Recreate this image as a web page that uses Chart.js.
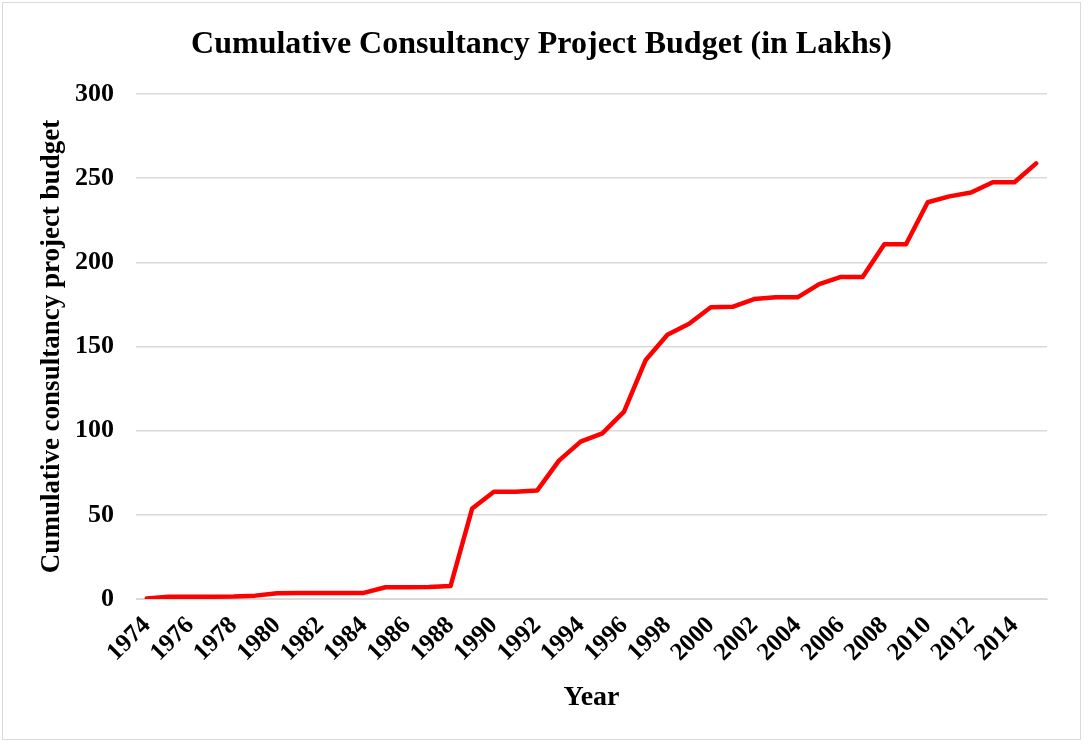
<!DOCTYPE html>
<html>
<head>
<meta charset="utf-8">
<script src="https://cdn.jsdelivr.net/npm/chart.js@4"></script>
<style>
  html, body { margin: 0; padding: 0; background: #fff; }
  #wrap { position: relative; width: 1089px; height: 744px; }
  #frame { position: absolute; left: 2px; top: 2px; width: 1079px; height: 738px; border: 1px solid #d9d9d9; box-sizing: border-box; pointer-events: none; }
</style>
</head>
<body>
<div id="wrap">
  <canvas id="myChart" width="1089" height="744"></canvas>
  <div id="frame"></div>
</div>
<script>
const years = [1974, 1975, 1976, 1977, 1978, 1979, 1980, 1981, 1982, 1983, 1984, 1985, 1986, 1987,
    1988, 1989, 1990, 1991, 1992, 1993, 1994, 1995, 1996, 1997, 1998, 1999, 2000, 2001,
    2002, 2003, 2004, 2005, 2006, 2007, 2008, 2009, 2010, 2011, 2012, 2013, 2014, 2015]

const budget = [0.3, 1.3, 1.4, 1.4, 1.5, 2, 3.4, 3.5, 3.6, 3.6, 3.6, 7, 7, 7.1,
    7.7, 53.8, 63.7, 63.7, 64.5, 82.2, 93.5, 98.4, 111.3, 142, 157, 163.5, 173.3, 173.6,
    178.2, 179.2, 179.2, 187.1, 191.3, 191.3, 210.7, 210.7, 235.7, 239.2, 241.5, 247.6, 247.6, 258.8]

const yTicks = [0, 50, 100, 150, 200, 250, 300]

const serif = "'Liberation Serif', 'Times New Roman', serif"

const chartData = {
    labels: years.map(y => String(y)),
    datasets: [
        {
            label: "Cumulative budget",
            data: budget,
            borderColor: "#ff0000",
            borderWidth: 4.5,
            pointRadius: 0,
            tension: 0,
            borderCapStyle: "round",
            borderJoinStyle: "round",
            fill: false
        }
    ]
}

new Chart(document.getElementById("myChart"), {
    type: "line",
    data: chartData,
    options: {
        responsive: false,
        animation: false,
        layout: {padding: {left: 36, right: 42, top: 0, bottom: 25}},
        plugins: {
            legend: {display: false},
            tooltip: {enabled: false},
            title: {
                display: true,
                text: "Cumulative Consultancy Project Budget (in Lakhs)",
                color: "#000",
                font: {family: serif, size: 32, weight: "bold"},
                padding: {top: 26, bottom: 29.6}
            }
        },
        scales: {
            x: {
                offset: true,
                grid: {display: false},
                border: {display: true, color: "#d9d9d9"},
                ticks: {
                    color: "#000",
                    autoSkip: false,
                    minRotation: 45,
                    maxRotation: 45,
                    padding: 4,
                    font: {family: serif, size: 25, weight: "bold"},
                    callback: function (val, idx) {
                        return idx % 2 === 0 ? this.getLabelForValue(val) : ""
                    }
                },
                title: {
                    display: true,
                    text: "Year",
                    color: "#000",
                    font: {family: serif, size: 28, weight: "bold"},
                    padding: {top: 4, bottom: 4}
                },
                afterFit: (scale) => { scale.height = 120 }
            },
            y: {
                min: 0,
                max: 300,
                afterBuildTicks: (scale) => { scale.ticks = yTicks.map(v => ({value: v})) },
                grid: {color: "#d9d9d9", lineWidth: 1.5, drawTicks: false},
                border: {display: false},
                ticks: {
                    color: "#000",
                    padding: 22,
                    font: {family: serif, size: 26, weight: "bold"}
                },
                title: {
                    display: true,
                    text: "Cumulative consultancy project budget",
                    color: "#000",
                    font: {family: serif, size: 27, weight: "bold"},
                    padding: 0
                },
                afterFit: (scale) => { scale.width = 100 }
            }
        }
    }
})
</script>
</body>
</html>
